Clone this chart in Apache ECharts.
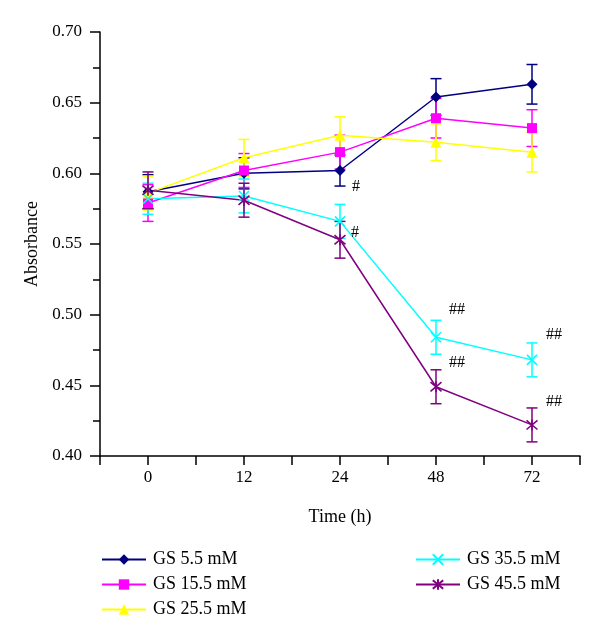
<!DOCTYPE html>
<html>
<head>
<meta charset="utf-8">
<script src="https://cdn.jsdelivr.net/npm/echarts@6/dist/echarts.min.js"></script>
<style>html,body{margin:0;padding:0;background:#fff;}#c{width:600px;height:638px;}</style>
</head>
<body>
<div id="c"></div>
<script>
// ---- data ----
const categories = ['0', '12', '24', '48', '72'];
const seriesNames = ['GS 5.5 mM', 'GS 15.5 mM', 'GS 25.5 mM', 'GS 35.5 mM', 'GS 45.5 mM'];
const gs55  = [0.587, 0.600, 0.602, 0.654, 0.663];
const gs155 = [0.579, 0.602, 0.615, 0.639, 0.632];
const gs255 = [0.586, 0.611, 0.627, 0.622, 0.615];
const gs355 = [0.582, 0.584, 0.566, 0.484, 0.468];
const gs455 = [0.588, 0.581, 0.553, 0.449, 0.422];
const err55  = [0.012, 0.011, 0.011, 0.013, 0.014];
const err155 = [0.013, 0.012, 0.012, 0.014, 0.013];
const err255 = [0.012, 0.013, 0.013, 0.013, 0.014];
const err355 = [0.011, 0.012, 0.012, 0.012, 0.012];
const err455 = [0.013, 0.012, 0.013, 0.012, 0.012];
const ann55  = ['', '', '#', '', ''];
const ann155 = ['', '', '', '', ''];
const ann255 = ['', '', '', '', ''];
const ann355 = ['', '', '#', '##', '##'];
const ann455 = ['', '', '', '##', '##'];
const yTicks = [0.40, 0.45, 0.50, 0.55, 0.60, 0.65, 0.70];

// ---- styles ----
const FONT = 'Liberation Serif';
const colors = ['#000080', '#ff00ff', '#ffff00', '#00ffff', '#800080'];
const symbols = ['diamond', 'rect', 'triangle',
  'path://M0 0L10 10M10 0L0 10',
  'path://M0 0L10 10M10 0L0 10M5 -1L5 11'];
const symbolSizes = [11, 10, 11, 10, 11];
const annOffsets = {
  0: {2: [16, 16]},
  3: {2: [15, 11], 3: [21, -27], 4: [22, -25]},
  4: {3: [21, -24], 4: [22, -23]}
};

const values = [gs55, gs155, gs255, gs355, gs455];
const errs = [err55, err155, err255, err355, err455];
const anns = [ann55, ann155, ann255, ann355, ann455];

const series = [];
// error bars
values.forEach((vals, s) => {
  series.push({
    name: 'err' + s,
    type: 'custom',
    z: 2,
    silent: true,
    data: vals.map((v, i) => [i, v - errs[s][i], v + errs[s][i]]),
    renderItem: function (params, api) {
      const x = api.value(0);
      const lo = api.coord([x, api.value(1)]);
      const hi = api.coord([x, api.value(2)]);
      const w = 5.5;
      const st = {stroke: colors[s], lineWidth: 1.5};
      return {
        type: 'group',
        children: [
          {type: 'line', shape: {x1: lo[0], y1: lo[1], x2: hi[0], y2: hi[1]}, style: st},
          {type: 'line', shape: {x1: lo[0] - w, y1: lo[1], x2: lo[0] + w, y2: lo[1]}, style: st},
          {type: 'line', shape: {x1: hi[0] - w, y1: hi[1], x2: hi[0] + w, y2: hi[1]}, style: st}
        ]
      };
    }
  });
});
// lines
values.forEach((vals, s) => {
  series.push({
    name: seriesNames[s],
    type: 'line',
    z: 3,
    symbol: symbols[s],
    symbolSize: symbolSizes[s],
    showAllSymbol: true,
    lineStyle: {color: colors[s], width: 1.5},
    itemStyle: {color: colors[s], borderColor: colors[s], borderWidth: s >= 3 ? 1.6 : 0},
    data: vals.map((v, i) => {
      const item = {value: [i, v]};
      if (anns[s][i]) {
        item.label = {
          show: true,
          formatter: anns[s][i],
          position: 'inside',
          offset: annOffsets[s][i],
          color: '#000',
          fontFamily: FONT,
          fontSize: 16
        };
      }
      return item;
    })
  });
});

const chart = echarts.init(document.getElementById('c'), null, {renderer: 'canvas'});
chart.setOption({
  animation: false,
  backgroundColor: '#fff',
  grid: {left: 100, right: 20, top: 32, bottom: 182, containLabel: false},
  legend: [
    {
      data: seriesNames.slice(0, 3),
      orient: 'vertical',
      left: 96, top: 545,
      itemWidth: 44, itemHeight: 13, itemGap: 6,
      textStyle: {fontFamily: FONT, fontSize: 18, color: '#000', lineHeight: 19, padding: [0, 0, 0, 2]}
    },
    {
      data: seriesNames.slice(3),
      orient: 'vertical',
      left: 410, top: 545,
      itemWidth: 44, itemHeight: 13, itemGap: 6,
      textStyle: {fontFamily: FONT, fontSize: 18, color: '#000', lineHeight: 19, padding: [0, 0, 0, 2]}
    }
  ],
  xAxis: {
    type: 'value',
    min: -0.5, max: 4.5, interval: 0.5,
    name: 'Time (h)', nameLocation: 'middle', nameGap: 52,
    nameTextStyle: {fontFamily: FONT, fontSize: 18, color: '#000'},
    axisLine: {onZero: false, lineStyle: {color: '#000', width: 1.5}},
    axisTick: {show: true, inside: false, length: 9, lineStyle: {color: '#000', width: 1.5}},
    axisLabel: {
      margin: 13, fontFamily: FONT, fontSize: 17, color: '#000',
      formatter: v => (Math.abs(v - Math.round(v)) < 1e-9 ? categories[Math.round(v)] : '')
    },
    splitLine: {show: false}
  },
  yAxis: {
    type: 'value',
    min: yTicks[0], max: yTicks[yTicks.length - 1], interval: 0.05,
    name: 'Absorbance', nameLocation: 'middle', nameGap: 58, nameRotate: 90,
    nameTextStyle: {fontFamily: FONT, fontSize: 18, color: '#000'},
    axisLine: {show: true, onZero: false, lineStyle: {color: '#000', width: 1.5}},
    axisTick: {show: true, inside: false, length: 10, lineStyle: {color: '#000', width: 1.5}},
    minorTick: {show: true, splitNumber: 2, length: 7, lineStyle: {color: '#000', width: 1.5}},
    axisLabel: {margin: 18, fontFamily: FONT, fontSize: 17, color: '#000', formatter: v => v.toFixed(2)},
    splitLine: {show: false}
  },
  series: series
});
</script>
</body>
</html>
